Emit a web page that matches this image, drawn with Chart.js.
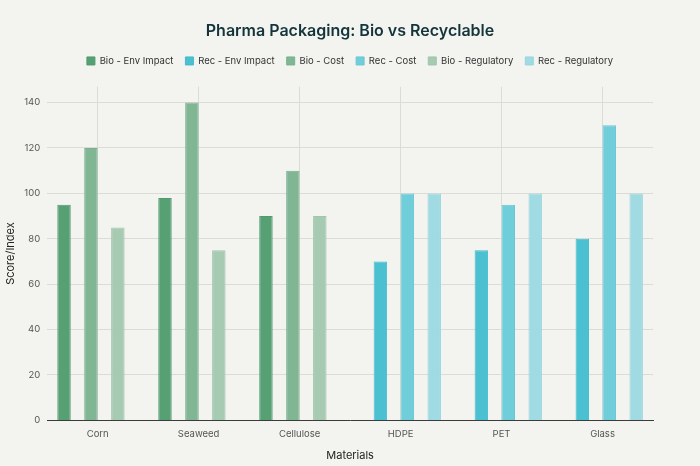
<!DOCTYPE html>
<html>
<head>
<meta charset="utf-8">
<script src="https://cdn.jsdelivr.net/npm/chart.js@4"></script>
<style>
    html, body { margin: 0; padding: 0; background: #f3f3ef; }
    #wrap { width: 700px; height: 466px; }
</style>
</head>
<body>
<div id="wrap"><canvas id="chart"></canvas></div>
<script>
var materials = ['Corn', 'Seaweed', 'Cellulose', 'HDPE', 'PET', 'Glass'];

var bioEnvImpact = [95, 98, 90, null, null, null];
var recEnvImpact = [null, null, null, 70, 75, 80];
var bioCost = [120, 140, 110, null, null, null];
var recCost = [null, null, null, 100, 95, 130];
var bioRegulatory = [85, 75, 90, null, null, null];
var recRegulatory = [null, null, null, 100, 100, 100];

var seriesNames = ['Bio - Env Impact', 'Rec - Env Impact', 'Bio - Cost', 'Rec - Cost', 'Bio - Regulatory', 'Rec - Regulatory'];
var seriesValues = [bioEnvImpact, recEnvImpact, bioCost, recCost, bioRegulatory, recRegulatory];
var fills = ['#56a074', '#4bc0d1', '#80b694', '#70cdda', '#a6cab2', '#a0dbe3'];
var edges = ['#4f9b6e', '#45bacb', '#79b18e', '#69c7d5', '#9fc5ac', '#98d5dd'];

var font = "Inter, 'Noto Sans', sans-serif";
Chart.defaults.font.family = font;

var datasets = seriesNames.map(function (name, i) {
    return {
        label: name,
        data: seriesValues[i],
        backgroundColor: fills[i],
        borderColor: edges[i],
        borderWidth: 1,
        categoryPercentage: 0.8,
        barPercentage: 1.0
    };
});

// a bit more room under the legend, like the original
var legendGap = {
    id: 'legendGap',
    beforeInit: function (chart) {
        var fit = chart.legend.fit;
        chart.legend.fit = function () {
            fit.bind(chart.legend)();
            this.height += 11;
        };
    }
};

var ctx = document.getElementById('chart').getContext('2d');

var chart = new Chart(ctx, {
    type: 'bar',
    data: {
        labels: materials,
        datasets: datasets
    },
    plugins: [legendGap],
    options: {
        animation: false,
        responsive: true,
        maintainAspectRatio: false,
        layout: {
            padding: { left: 0, right: 0, top: 18, bottom: 0 }
        },
        plugins: {
            title: {
                display: true,
                text: 'Pharma Packaging: Bio vs Recyclable',
                color: '#13343b',
                font: { size: 16, weight: '600', family: font },
                padding: { top: 4, bottom: 3 }
            },
            legend: {
                position: 'top',
                labels: {
                    color: '#333',
                    boxWidth: 8,
                    boxHeight: 8,
                    padding: 12,
                    font: { size: 9.5, family: font }
                }
            },
            tooltip: { enabled: false }
        },
        scales: {
            x: {
                grid: { offset: false, color: '#dcdcd6', drawTicks: false },
                border: { display: true, color: '#3c3c3c', width: 1 },
                ticks: { color: '#555', font: { size: 9.5 }, padding: 8 },
                title: { display: true, text: 'Materials', color: '#222', font: { size: 11 }, padding: { top: 1 } }
            },
            y: {
                min: 0,
                max: 147,
                grid: { color: '#dcdcd6', drawTicks: false },
                border: { display: false },
                ticks: { stepSize: 20, color: '#555', font: { size: 9.5 }, padding: 7 },
                afterBuildTicks: function (axis) {
                    axis.ticks = axis.ticks.filter(function (t) { return t.value % 20 === 0; });
                },
                title: { display: true, text: 'Score/Index', color: '#222', font: { size: 11 }, padding: { top: 4, bottom: 0 } }
            },
            // empty right-hand axis, only keeps the margin on the right
            yRight: {
                position: 'right',
                grid: { display: false },
                border: { display: false },
                ticks: { display: false },
                afterFit: function (axis) {
                    axis.width = 47;
                }
            }
        }
    }
});
</script>
</body>
</html>
